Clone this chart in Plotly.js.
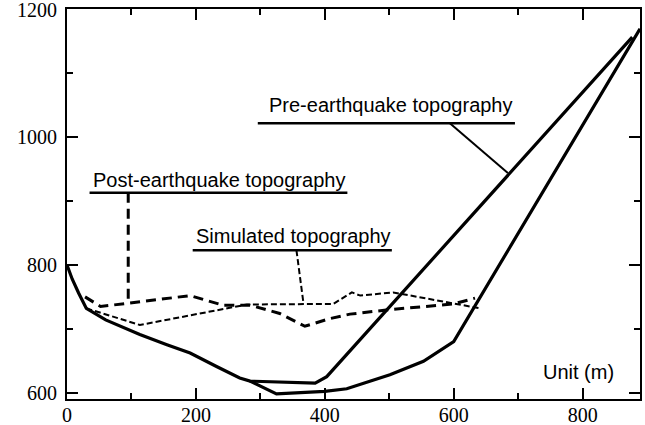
<!DOCTYPE html>
<html>
<head>
<meta charset="utf-8">
<script src="https://cdn.plot.ly/plotly-3.0.1.min.js"></script>
<style>html,body{margin:0;padding:0;background:#fff;}#chart{width:645px;height:425px;}</style>
</head>
<body>
<div id="chart"></div>
<script>
// Pre-earthquake topography (solid)
const preX = [0, 8, 18, 30, 60, 113, 155, 191, 232, 268, 284, 385, 403, 877];
const preY = [800, 778, 756, 732, 714, 691, 675, 662, 641, 623, 618, 615, 625, 1157];
// Lower solid surface
const lowX = [284, 325, 400, 434, 501, 553, 600, 889];
const lowY = [618, 598, 602, 606, 628, 649, 680, 1170];
// Post-earthquake topography (thick dashed)
const postX = [28, 52, 95, 130, 191, 242, 284, 330, 369, 408, 439, 501, 568, 600, 633];
const postY = [750, 735, 740, 744, 752, 737, 737, 724, 704, 716, 723, 730, 736, 739, 748];
// Simulated topography (thin dashed)
const simX = [30, 113, 279, 367, 413, 442, 455, 506, 579, 641];
const simY = [732, 706, 738, 738, 739, 757, 752, 757, 743, 732];

const labels = ["Pre-earthquake topography", "Post-earthquake topography", "Simulated topography", "Unit (m)"];
const xTickVals = [0, 200, 400, 600, 800];
const yTickVals = [600, 800, 1000, 1200];

const solid = {color: 'black', width: 3.2};
const traces = [
  {x: preX, y: preY, mode: 'lines', line: solid, hoverinfo: 'skip'},
  {x: lowX, y: lowY, mode: 'lines', line: solid, hoverinfo: 'skip'},
  {x: postX, y: postY, mode: 'lines', line: {color: 'black', width: 3, dash: '10px,6px'}, hoverinfo: 'skip'},
  {x: simX, y: simY, mode: 'lines', line: {color: 'black', width: 2, dash: '6px,3px'}, hoverinfo: 'skip'}
];

const txtFont = {family: 'Liberation Sans, Arial, sans-serif', size: 20, color: 'black'};
const tickFont = {family: 'Liberation Serif, Times New Roman, serif', size: 20, color: 'black'};

function axis(range, vals, minorD) {
  return {
    range: range, tickmode: 'array', tickvals: vals, ticktext: vals.map(String),
    ticks: 'inside', ticklen: 11, tickwidth: 2, tickcolor: 'black',
    showline: true, linecolor: 'black', linewidth: 2, mirror: 'ticks',
    showgrid: false, zeroline: false, tickfont: tickFont, fixedrange: true,
    ticklabeloverflow: 'allow',
    minor: {dtick: minorD, tick0: 0, ticks: 'inside', ticklen: 6, tickwidth: 2, tickcolor: 'black', showgrid: false}
  };
}

const ln = (x0, y0, x1, y1, w, dash) => ({type: 'line', xref: 'x', yref: 'y', x0: x0, y0: y0, x1: x1, y1: y1,
  line: {color: 'black', width: w, dash: dash || 'solid'}});

const layout = {
  width: 645, height: 425,
  margin: {l: 67, r: 5, t: 9, b: 26, pad: 0},
  paper_bgcolor: 'white', plot_bgcolor: 'white',
  showlegend: false,
  xaxis: Object.assign(axis([0, 889], xTickVals, 100), {ticklabelstandoff: -3}),
  yaxis: Object.assign(axis([590, 1201], yTickVals, 100), {ticklabelstandoff: 4}),
  annotations: [
    {x: 503, y: 1050, text: labels[0], showarrow: false, font: txtFont, xanchor: 'center', yanchor: 'middle'},
    {x: 236, y: 933, text: labels[1], showarrow: false, font: txtFont, xanchor: 'center', yanchor: 'middle'},
    {x: 351, y: 846, text: labels[2], showarrow: false, font: txtFont, xanchor: 'center', yanchor: 'middle'},
    {x: 793, y: 633, text: labels[3], showarrow: false, font: txtFont, xanchor: 'center', yanchor: 'middle'}
  ],
  shapes: [
    ln(296, 1022, 695, 1022, 2.5),
    ln(594, 1022, 684, 944, 2),
    ln(35, 913, 435, 913, 2.5),
    ln(95, 913, 95, 740, 3, '10px,6px'),
    ln(195, 823, 504, 823, 2.5),
    ln(356, 823, 367, 739, 2, '6px,3px')
  ]
};

Plotly.newPlot('chart', traces, layout, {staticPlot: true, displayModeBar: false});
</script>
</body>
</html>
